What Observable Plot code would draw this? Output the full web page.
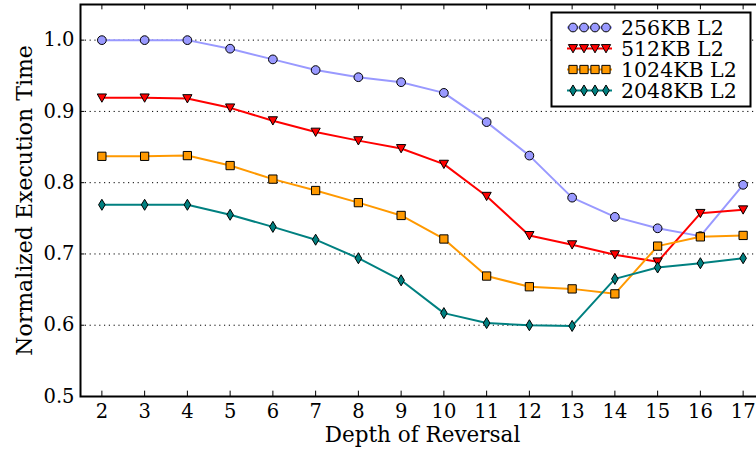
<!DOCTYPE html>
<html><head><meta charset="utf-8">
<script src="https://cdn.jsdelivr.net/npm/d3@7"></script>
<script src="https://cdn.jsdelivr.net/npm/@observablehq/plot@0.6"></script>
<style>
html,body{margin:0;padding:0;background:#fff;overflow:hidden;}
#wrap{position:relative;width:756px;height:457px;overflow:hidden;}
</style></head><body><div id="wrap"></div>
<script>
const depths = [2,3,4,5,6,7,8,9,10,11,12,13,14,15,16,17];
const l2_256  = [1.000,1.000,1.000,0.988,0.973,0.958,0.948,0.941,0.926,0.885,0.838,0.779,0.752,0.736,0.725,0.797];
const l2_512  = [0.919,0.919,0.918,0.905,0.887,0.871,0.859,0.848,0.826,0.781,0.726,0.713,0.699,0.689,0.757,0.762];
const l2_1024 = [0.837,0.837,0.838,0.824,0.805,0.789,0.772,0.754,0.721,0.669,0.654,0.651,0.644,0.711,0.724,0.726];
const l2_2048 = [0.769,0.769,0.769,0.755,0.738,0.720,0.694,0.663,0.617,0.603,0.600,0.599,0.665,0.681,0.687,0.694];
const seriesNames = ["256KB L2","512KB L2","1024KB L2","2048KB L2"];
const seriesColors = ["#9999ff","#ff0000","#ff9900","#008080"];
const yTicks = [0.5,0.6,0.7,0.8,0.9,1.0];
const gridTicks = [0.6,0.7,0.8,0.9,1.0];
const xTicks = depths;
const xLabel = "Depth of Reversal";
const yLabel = "Normalized Execution Time";

// marker shapes
const circleSym = {draw(ctx,size){const r=Math.sqrt(size/Math.PI)*0.95; ctx.moveTo(r,0); ctx.arc(0,0,r,0,2*Math.PI);}};
const triDown = {draw(ctx,size){const r=Math.sqrt(size/Math.PI); ctx.moveTo(-r,-r*0.85); ctx.lineTo(r,-r*0.85); ctx.lineTo(0,r*0.95); ctx.closePath();}};
const squareSym = {draw(ctx,size){const r=Math.sqrt(size/Math.PI)*0.9; ctx.rect(-r,-r,2*r,2*r);}};
const thinDiamond = {draw(ctx,size){const r=Math.sqrt(size/Math.PI); ctx.moveTo(0,-r*1.2); ctx.lineTo(r*0.72,0); ctx.lineTo(0,r*1.2); ctx.lineTo(-r*0.72,0); ctx.closePath();}};
const symbols = [circleSym, triDown, squareSym, thinDiamond];
const seriesValues = [l2_256, l2_512, l2_1024, l2_2048];
const R = 4.6;

const marks = [
  Plot.ruleY(gridTicks, {y: d => d, stroke: "black", strokeWidth: 1, strokeDasharray: "1.2,3.6"})
];
seriesValues.forEach((vals, i) => {
  const rows = depths.map((d, j) => ({depth: d, value: vals[j]}));
  marks.push(Plot.line(rows, {x: "depth", y: "value", stroke: seriesColors[i], strokeWidth: 2}));
  marks.push(Plot.dot(rows, {x: "depth", y: "value", symbol: symbols[i], r: R, fill: seriesColors[i], stroke: "black", strokeWidth: 1}));
});
const tY = 0.0075, tX = 0.1;
marks.push(
  Plot.ruleX(xTicks, {x: d => d, y1: 0.5, y2: 0.5 + tY, stroke: "black", strokeWidth: 1}),
  Plot.ruleX(xTicks, {x: d => d, y1: 1.05, y2: 1.05 - tY, stroke: "black", strokeWidth: 1}),
  Plot.ruleY(yTicks, {y: d => d, x1: 1.5, x2: 1.5 + tX, stroke: "black", strokeWidth: 1}),
  Plot.frame({stroke: "black", strokeWidth: 2}),
  Plot.axisX({ticks: xTicks, tickSize: 0, tickPadding: 8, tickFormat: d => String(d), label: null, fontSize: 19.5}),
  Plot.axisY({ticks: yTicks, tickSize: 0, tickPadding: 6, tickFormat: d3.format(".1f"), label: null, fontSize: 19.5}),
  Plot.text([xLabel], {text: d => d, frameAnchor: "bottom", dy: 45, fontSize: 21.5}),
  Plot.text([yLabel], {text: d => d, frameAnchor: "left", textAnchor: "middle", rotate: -90, dx: -56, fontSize: 22})
);

const chart = Plot.plot({
  width: 756, height: 457,
  marginLeft: 80, marginRight: -8, marginTop: 4, marginBottom: 61,
  x: {type: "linear", domain: [1.5, 17.5]},
  y: {type: "linear", domain: [0.5, 1.05]},
  style: {fontFamily: "'DejaVu Serif', serif", fontSize: "20px", background: "white", color: "black", overflow: "visible"},
  marks
});
document.getElementById("wrap").appendChild(chart);

// legend overlay
const leg = d3.select("#wrap").append("svg")
  .attr("width", 756).attr("height", 457)
  .style("position", "absolute").style("left", "0px").style("top", "0px");
leg.append("rect").attr("x", 551.5).attr("y", 12.5).attr("width", 199).attr("height", 94)
  .attr("fill", "white").attr("stroke", "black").attr("stroke-width", 2);
seriesNames.forEach((name, i) => {
  const cy = 27.5 + i * 21;
  const g = leg.append("g");
  g.append("line").attr("x1", 567).attr("x2", 612).attr("y1", cy).attr("y2", cy)
    .attr("stroke", seriesColors[i]).attr("stroke-width", 2);
  [573, 584, 595, 606].forEach(cx => {
    g.append("path").attr("d", d3.symbol(symbols[i], Math.PI * R * R)())
      .attr("transform", `translate(${cx},${cy})`)
      .attr("fill", seriesColors[i]).attr("stroke", "black").attr("stroke-width", 1);
  });
  g.append("text").attr("x", 621).attr("y", cy).attr("dy", "0.36em")
    .attr("font-family", "'DejaVu Serif', serif").attr("font-size", 20.5).text(name);
});
</script></body></html>
